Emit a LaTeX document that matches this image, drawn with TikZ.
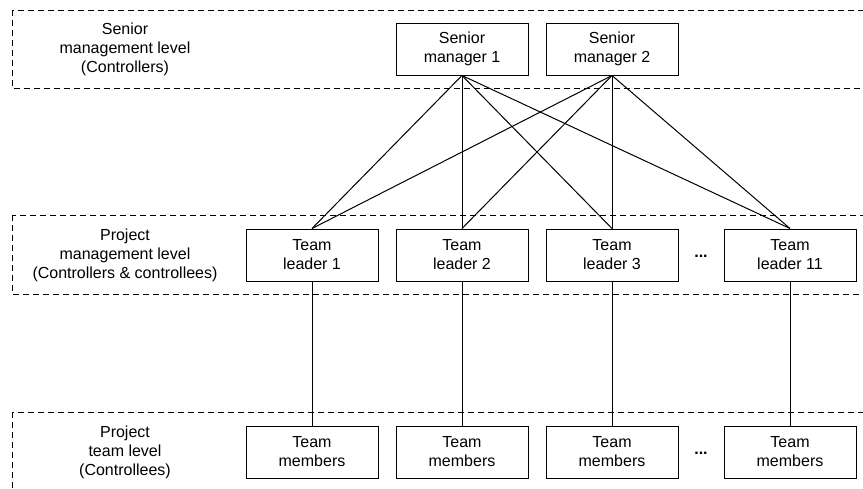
\documentclass[tikz,border=0pt]{standalone}
\usepackage{fontspec}
\setmainfont{Liberation Sans}

\begin{document}
\begin{tikzpicture}[x=1pt,y=1pt,
  box/.style={draw, line width=1pt, minimum width=132pt, minimum height=52pt,
              inner sep=0pt, align=center, font=\fontsize{16}{19}\selectfont},
  band/.style={draw, line width=0.8pt, dash pattern=on 6pt off 4pt},
  levellabel/.style={align=center, font=\fontsize{16}{19}\selectfont},
  link/.style={line width=1pt}]

%─────────────
% Canvas
%─────────────
\useasboundingbox (0,0) rectangle (863,-488);
\clip (0,0) rectangle (863,-488);

%─────────────
% Level bands (open on the right / bottom)
%─────────────
\draw[band] (12,-10)  rectangle (900,-88);
\draw[band] (12,-215) rectangle (900,-294);
\draw[band] (12,-412) rectangle (900,-540);

\node[levellabel] (lvlSenior)  at (125,-49)  {Senior\\management level\\(Controllers)};
\node[levellabel] (lvlProject) at (125,-255) {Project\\management level\\(Controllers \& controllees)};
\node[levellabel] (lvlTeam)    at (125,-452) {Project\\team level\\(Controllees)};

%─────────────
% Senior managers
%─────────────
\node[box] (sm1) at (462,-49) {Senior\\manager 1};
\node[box] (sm2) at (612,-49) {Senior\\manager 2};

%─────────────
% Team leaders and their teams
%─────────────
\foreach \x/\n in {312/1, 462/2, 612/3, 790/11} {
  \node[box] (tl\n) at (\x,-255) {Team\\leader \n};
  \node[box] (tm\n) at (\x,-452) {Team\\members};
}

\node[levellabel] (moreTL) at (701,-256) {\textbf{...}};
\node[levellabel] (moreTM) at (701,-453) {\textbf{...}};

%─────────────
% Connectors
%─────────────
\foreach \s in {sm1,sm2} {
  \foreach \n in {1,2,3,11} {
    \draw[link] (\s.south) -- (tl\n.north);
  }
}
\foreach \n in {1,2,3,11} {
  \draw[link] (tl\n.south) -- (tm\n.north);
}
\end{tikzpicture}
\end{document}
